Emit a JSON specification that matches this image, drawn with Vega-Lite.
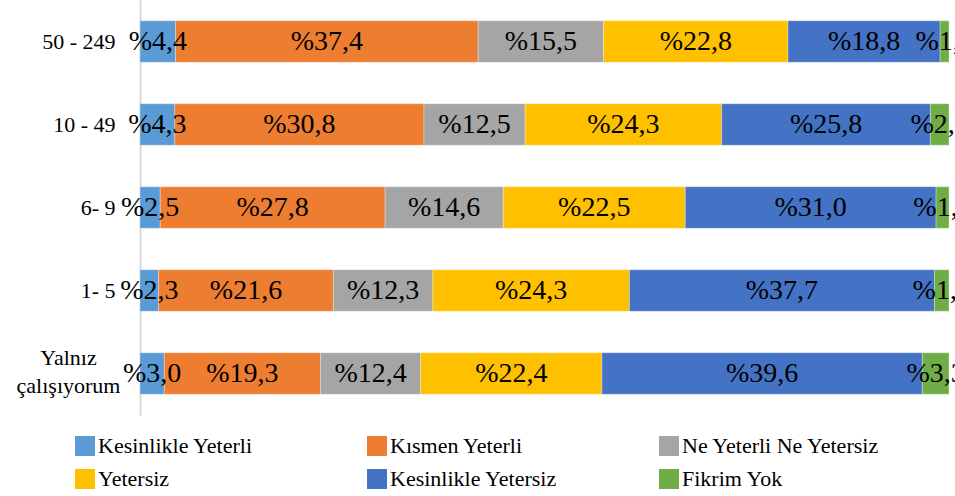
{
  "$schema": "https://vega.github.io/schema/vega-lite/v6.json",
  "autosize": {"type": "none"},
  "width": 809,
  "height": 415,
  "padding": {"left": 140, "top": 0, "right": 6, "bottom": 81},
  "background": "white",
  "config": {
    "view": {"stroke": null},
    "font": "Liberation Serif"
  },
  "data": {
    "values": [
      {"grup": "50 - 249", "yanit": "Kesinlikle Yeterli", "sira": 1, "deger": 4.4},
      {"grup": "50 - 249", "yanit": "Kısmen Yeterli", "sira": 2, "deger": 37.4},
      {"grup": "50 - 249", "yanit": "Ne Yeterli Ne Yetersiz", "sira": 3, "deger": 15.5},
      {"grup": "50 - 249", "yanit": "Yetersiz", "sira": 4, "deger": 22.8},
      {"grup": "50 - 249", "yanit": "Kesinlikle Yetersiz", "sira": 5, "deger": 18.8},
      {"grup": "50 - 249", "yanit": "Fikrim Yok", "sira": 6, "deger": 1.1},
      {"grup": "10 - 49", "yanit": "Kesinlikle Yeterli", "sira": 1, "deger": 4.3},
      {"grup": "10 - 49", "yanit": "Kısmen Yeterli", "sira": 2, "deger": 30.8},
      {"grup": "10 - 49", "yanit": "Ne Yeterli Ne Yetersiz", "sira": 3, "deger": 12.5},
      {"grup": "10 - 49", "yanit": "Yetersiz", "sira": 4, "deger": 24.3},
      {"grup": "10 - 49", "yanit": "Kesinlikle Yetersiz", "sira": 5, "deger": 25.8},
      {"grup": "10 - 49", "yanit": "Fikrim Yok", "sira": 6, "deger": 2.3},
      {"grup": "6- 9", "yanit": "Kesinlikle Yeterli", "sira": 1, "deger": 2.5},
      {"grup": "6- 9", "yanit": "Kısmen Yeterli", "sira": 2, "deger": 27.8},
      {"grup": "6- 9", "yanit": "Ne Yeterli Ne Yetersiz", "sira": 3, "deger": 14.6},
      {"grup": "6- 9", "yanit": "Yetersiz", "sira": 4, "deger": 22.5},
      {"grup": "6- 9", "yanit": "Kesinlikle Yetersiz", "sira": 5, "deger": 31.0},
      {"grup": "6- 9", "yanit": "Fikrim Yok", "sira": 6, "deger": 1.6},
      {"grup": "1- 5", "yanit": "Kesinlikle Yeterli", "sira": 1, "deger": 2.3},
      {"grup": "1- 5", "yanit": "Kısmen Yeterli", "sira": 2, "deger": 21.6},
      {"grup": "1- 5", "yanit": "Ne Yeterli Ne Yetersiz", "sira": 3, "deger": 12.3},
      {"grup": "1- 5", "yanit": "Yetersiz", "sira": 4, "deger": 24.3},
      {"grup": "1- 5", "yanit": "Kesinlikle Yetersiz", "sira": 5, "deger": 37.7},
      {"grup": "1- 5", "yanit": "Fikrim Yok", "sira": 6, "deger": 1.8},
      {"grup": "Yalnız çalışıyorum", "yanit": "Kesinlikle Yeterli", "sira": 1, "deger": 3.0},
      {"grup": "Yalnız çalışıyorum", "yanit": "Kısmen Yeterli", "sira": 2, "deger": 19.3},
      {"grup": "Yalnız çalışıyorum", "yanit": "Ne Yeterli Ne Yetersiz", "sira": 3, "deger": 12.4},
      {"grup": "Yalnız çalışıyorum", "yanit": "Yetersiz", "sira": 4, "deger": 22.4},
      {"grup": "Yalnız çalışıyorum", "yanit": "Kesinlikle Yetersiz", "sira": 5, "deger": 39.6},
      {"grup": "Yalnız çalışıyorum", "yanit": "Fikrim Yok", "sira": 6, "deger": 3.3}
    ]
  },
  "transform": [
    {"stack": "deger", "groupby": ["grup"], "sort": [{"field": "sira", "order": "ascending"}], "as": ["x0", "x1"]},
    {"calculate": "(datum.x0 + datum.x1) / 2", "as": "xm"},
    {"calculate": "'%' + replace(format(datum.deger, '.1f'), '.', ',')", "as": "etiket"}
  ],
  "encoding": {
    "y": {
      "field": "grup",
      "type": "nominal",
      "sort": ["50 - 249", "10 - 49", "6- 9", "1- 5", "Yalnız çalışıyorum"],
      "scale": {"paddingInner": 0.5, "paddingOuter": 0.25},
      "axis": {
        "title": null,
        "ticks": false,
        "labelPadding": {"condition": {"test": "datum.value == 'Yalnız çalışıyorum'", "value": 72}, "value": 25},
        "labelAlign": {"condition": {"test": "datum.value == 'Yalnız çalışıyorum'", "value": "center"}, "value": "right"},
        "labelFont": "Liberation Serif",
        "labelFontSize": 22,
        "labelColor": "#000000",
        "labelLineHeight": 28,
        "labelOffset": {"condition": {"test": "datum.value == 'Yalnız çalışıyorum'", "value": -16}, "value": 0},
        "labelExpr": "datum.value == 'Yalnız çalışıyorum' ? ['Yalnız', 'çalışıyorum'] : datum.value",
        "domainColor": "#d9d9d9",
        "domainWidth": 2
      }
    }
  },
  "layer": [
    {
      "mark": {"type": "bar", "stroke": "#ffffff", "strokeWidth": 0.5, "strokeOpacity": 0.6},
      "encoding": {
        "x": {"field": "x0", "type": "quantitative", "scale": {"domain": [0, 100], "nice": false}, "axis": null},
        "x2": {"field": "x1"},
        "color": {
          "field": "yanit",
          "type": "nominal",
          "sort": ["Kesinlikle Yeterli", "Kısmen Yeterli", "Ne Yeterli Ne Yetersiz", "Yetersiz", "Kesinlikle Yetersiz", "Fikrim Yok"],
          "scale": {
            "domain": ["Kesinlikle Yeterli", "Kısmen Yeterli", "Ne Yeterli Ne Yetersiz", "Yetersiz", "Kesinlikle Yetersiz", "Fikrim Yok"],
            "range": ["#5B9BD5", "#ED7D31", "#A5A5A5", "#FFC000", "#4472C4", "#70AD47"]
          },
          "legend": {
            "title": null,
            "orient": "none",
            "legendX": -66,
            "legendY": 435,
            "direction": "horizontal",
            "columns": 3,
            "gridAlign": "all",
            "columnPadding": 70,
            "rowPadding": 11,
            "symbolType": "square",
            "symbolSize": 400,
            "symbolStrokeWidth": 0,
            "labelOffset": 2,
            "labelFont": "Liberation Serif",
            "labelFontSize": 22,
            "labelColor": "#000000",
            "labelLimit": 400,
            "padding": 0
          }
        }
      }
    },
    {
      "mark": {"type": "text", "font": "Liberation Serif", "fontSize": 28, "color": "#000000", "align": "center", "baseline": "middle"},
      "encoding": {
        "x": {"field": "xm", "type": "quantitative"},
        "text": {"field": "etiket", "type": "nominal"}
      }
    }
  ]
}
